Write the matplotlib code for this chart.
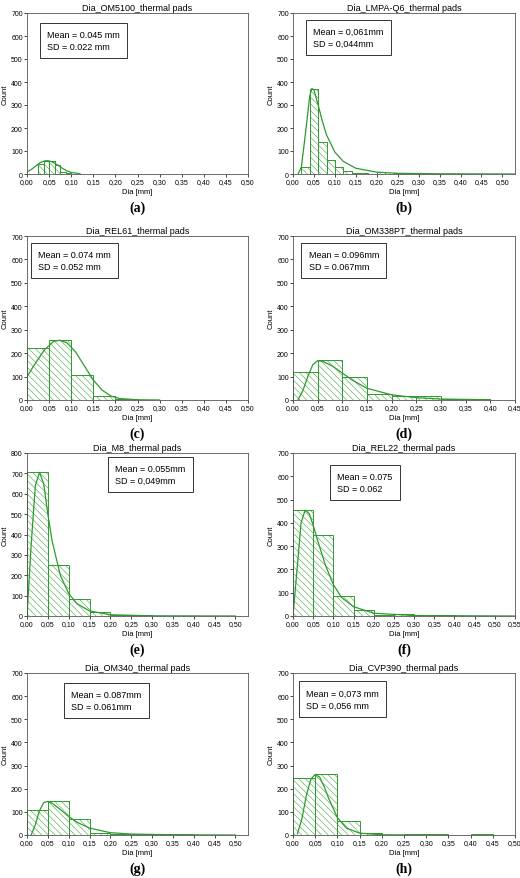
import matplotlib.pyplot as plt
from matplotlib.ticker import FuncFormatter

plt.rcParams['font.family'] = ['Liberation Sans', 'DejaVu Sans']
plt.rcParams['hatch.linewidth'] = 0.35

GREEN = '#2e9a2e'

titles = ["Dia_OM5100_thermal pads", "Dia_LMPA-Q6_thermal pads",
          "Dia_REL61_thermal pads", "Dia_OM338PT_thermal pads",
          "Dia_M8_thermal pads", "Dia_REL22_thermal pads",
          "Dia_OM340_thermal pads", "Dia_CVP390_thermal pads"]
letters = ["(a)", "(b)", "(c)", "(d)", "(e)", "(f)", "(g)", "(h)"]
stats = [("Mean = 0.045 mm", "SD = 0.022 mm"), ("Mean = 0,061mm", "SD = 0,044mm"),
         ("Mean = 0.074 mm", "SD = 0.052 mm"), ("Mean = 0.096mm", "SD = 0.067mm"),
         ("Mean = 0.055mm", "SD = 0,049mm"), ("Mean = 0.075", "SD = 0.062"),
         ("Mean = 0.087mm", "SD = 0.061mm"), ("Mean = 0,073 mm", "SD = 0,056 mm")]

# histogram bin left edges, widths and counts
bin_left = [
    [0.025, 0.0375, 0.05, 0.0625, 0.075, 0.0875, 0.1, 0.125],
    [0.02, 0.04, 0.06, 0.08, 0.10, 0.12, 0.14, 0.16, 0.20, 0.24, 0.30, 0.34, 0.38],
    [0.0, 0.05, 0.10, 0.15, 0.20, 0.25, 0.30],
    [0.0, 0.05, 0.10, 0.15, 0.20, 0.25, 0.30, 0.35],
    [0.0, 0.05, 0.10, 0.15, 0.20, 0.25, 0.35, 0.45],
    [0.0, 0.05, 0.10, 0.15, 0.20, 0.25, 0.30, 0.35, 0.40, 0.45, 0.50],
    [0.0, 0.05, 0.10, 0.15, 0.20, 0.25, 0.30, 0.35],
    [0.0, 0.05, 0.10, 0.15, 0.20, 0.25, 0.30, 0.40],
]
bin_width = [0.0125, 0.02, 0.05, 0.05, 0.05, 0.05, 0.05, 0.05]
counts = [
    [45, 58, 55, 38, 10, 3, 1, 2],
    [30, 370, 140, 60, 30, 15, 5, 3, 10, 3, 5, 2, 2],
    [220, 255, 105, 15, 5, 2, 2],
    [118, 170, 98, 25, 15, 15, 5, 3],
    [705, 250, 85, 20, 5, 3, 2, 2],
    [455, 350, 85, 25, 5, 10, 5, 3, 2, 2, 2],
    [108, 145, 68, 8, 5, 3, 3, 3],
    [248, 262, 60, 8, 2, 5, 5, 3],
]

# fitted curves
curve_x = [
    [0.0, 0.01, 0.02, 0.03, 0.04, 0.045, 0.05, 0.06, 0.07, 0.08, 0.09, 0.10, 0.12],
    [0.012, 0.02, 0.03, 0.04, 0.045, 0.05, 0.06, 0.07, 0.08, 0.10, 0.12, 0.15, 0.20, 0.25, 0.35, 0.53],
    [0.0, 0.02, 0.04, 0.06, 0.074, 0.09, 0.11, 0.13, 0.15, 0.17, 0.19, 0.21, 0.25, 0.30],
    [0.01, 0.02, 0.03, 0.04, 0.05, 0.06, 0.08, 0.10, 0.12, 0.15, 0.20, 0.25, 0.30, 0.40],
    [0.0, 0.01, 0.02, 0.03, 0.04, 0.05, 0.06, 0.08, 0.10, 0.12, 0.15, 0.20, 0.30, 0.50],
    [0.0, 0.01, 0.02, 0.03, 0.04, 0.05, 0.06, 0.08, 0.10, 0.12, 0.15, 0.20, 0.30, 0.55],
    [0.01, 0.02, 0.03, 0.04, 0.05, 0.06, 0.08, 0.10, 0.12, 0.15, 0.20, 0.25, 0.35, 0.50],
    [0.01, 0.02, 0.03, 0.04, 0.05, 0.06, 0.07, 0.08, 0.10, 0.12, 0.15, 0.20, 0.30],
]
curve_y = [
    [9, 20, 35, 50, 57, 58, 57, 50, 38, 25, 14, 7, 1],
    [0, 30, 180, 340, 372, 365, 300, 230, 170, 95, 55, 25, 8, 3, 1, 0],
    [100, 160, 215, 250, 255, 245, 205, 145, 85, 42, 17, 6, 1, 0],
    [0, 40, 100, 150, 168, 165, 145, 115, 85, 50, 22, 10, 4, 1],
    [0, 350, 640, 705, 650, 500, 370, 200, 110, 60, 25, 6, 1, 0],
    [0, 200, 400, 455, 440, 390, 330, 220, 135, 80, 40, 12, 2, 0],
    [0, 45, 105, 140, 145, 138, 110, 80, 55, 30, 10, 4, 1, 0],
    [5, 70, 170, 240, 262, 250, 210, 160, 75, 30, 8, 1, 0],
]
xmax = [0.5, 0.53, 0.5, 0.45, 0.53, 0.55, 0.53, 0.5]
ymax = [700, 700, 700, 700, 800, 700, 700, 700]
box_pos = [(0.06, 0.71), (0.06, 0.73), (0.02, 0.73), (0.04, 0.73),
           (0.37, 0.75), (0.17, 0.70), (0.17, 0.71), (0.03, 0.72)]

W, H = 520, 879
fig = plt.figure(figsize=(W / 100, H / 100), dpi=100)
rows_px = [(14, 175), (237, 401), (454, 617), (674, 836)]
cols_px = [(27, 248), (293, 515)]

comma = FuncFormatter(lambda v, p: f"{v:.2f}".replace('.', ','))

for i in range(8):
    r, c = divmod(i, 2)
    x0, x1 = cols_px[c]
    y0, y1 = rows_px[r]
    ax = fig.add_axes([x0 / W, 1 - y1 / H, (x1 - x0) / W, (y1 - y0) / H])
    ax.bar(bin_left[i], counts[i], width=bin_width[i], align='edge',
           facecolor='white', edgecolor=GREEN, hatch='\\\\\\\\\\', linewidth=0.7)
    ax.plot(curve_x[i], curve_y[i], color=GREEN, lw=0.9)
    ax.set_xlim(0, xmax[i])
    ax.set_ylim(0, ymax[i])
    ax.set_xticks([k * 0.05 for k in range(int(xmax[i] / 0.05 + 1e-6) + 1)])
    ax.xaxis.set_major_formatter(comma)
    ax.set_yticks(range(0, ymax[i] + 1, 100))
    ax.tick_params(labelsize=5, length=2, width=0.5, pad=1)
    for s in ax.spines.values():
        s.set_linewidth(0.6)
        s.set_color('#555555')
    ax.set_title(titles[i], fontsize=6.5, pad=2)
    ax.set_xlabel("Dia [mm]", fontsize=5.5, labelpad=2)
    ax.set_ylabel("Count", fontsize=5.5, labelpad=2)
    bx, by = box_pos[i]
    ax.text(bx + 0.03, by + 0.12, stats[i][0] + "\n" + stats[i][1],
            transform=ax.transAxes, fontsize=6.5, va='center', ha='left',
            linespacing=1.4,
            bbox=dict(boxstyle='square,pad=0.8', fc='white', ec='#333333', lw=0.7))
    fig.text((x0 + x1) / 2 / W, 1 - (y1 + 33) / H, letters[i],
             ha='center', va='center', fontsize=10, fontweight='bold',
             family=['Liberation Serif', 'DejaVu Serif'])

fig.savefig("out.png", dpi=100)
